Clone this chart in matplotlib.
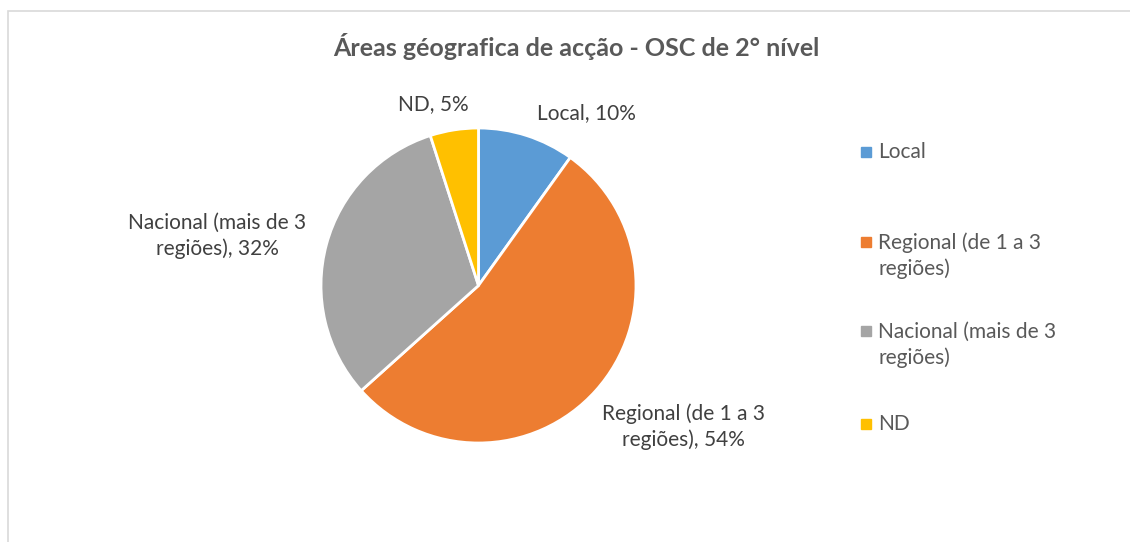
import matplotlib.pyplot as plt
from matplotlib.patches import Rectangle

plt.rcParams['font.family'] = ['Lato', 'DejaVu Sans']

# dados
categorias = ['Local', 'Regional (de 1 a 3\nregiões)', 'Nacional (mais de 3\nregiões)', 'ND']
percentagens = [10, 54, 32, 5]
rotulos = ['Local, 10%', 'Regional (de 1 a 3\nregiões), 54%', 'Nacional (mais de 3\nregiões), 32%', 'ND, 5%']
cores = ['#5B9BD5', '#ED7D31', '#A5A5A5', '#FFC000']
titulo = 'Áreas géografica de acção - OSC de 2° nível'

W, H = 1130, 542
cx, cy, r = 478.5, 285.5, 157.5  # centro e raio da tarte em pixeis


def px(x, y):
    # pixel -> coordenadas de dados (raio = 1)
    return (x - cx) / r, (cy - y) / r


fig = plt.figure(figsize=(W / 100, H / 100), dpi=100)
ax = fig.add_axes([0, 0, 1, 1])
ax.axis('off')

# moldura do gráfico
top = 1 - 11 / H
fig.patches.append(Rectangle((8 / W, -0.5), 1.5, top + 0.5, transform=fig.transFigure,
                             fill=False, edgecolor='#D9D9D9', lw=1.2, zorder=0))

ax.pie(percentagens, colors=cores, startangle=90, counterclock=False, radius=1,
       wedgeprops=dict(edgecolor='white', linewidth=2))
ax.set_aspect('auto')
ax.set_xlim(-cx / r, (W - cx) / r)
ax.set_ylim(-(H - cy) / r, cy / r)

# rótulos dos dados
pos_rotulos = [(586, 113), (683, 427), (217, 236), (433, 104)]
for txt, (x, y) in zip(rotulos, pos_rotulos):
    ax.text(*px(x, y), txt, ha='center', va='center', fontsize=15,
            color='#404040', linespacing=1.35)

ax.text(*px(576, 47), titulo, ha='center', va='center', fontsize=18,
        fontweight='bold', color='#595959')

# legenda manual
leg_y = [152, 256, 345, 424]
for cat, cor, y in zip(categorias, cores, leg_y):
    ax.plot(*px(866, y - (14 if '\n' in cat else 0)), marker='s', markersize=6.5,
            color=cor, linestyle='none')
    ax.text(*px(878, y), cat, ha='left', va='center', fontsize=15,
            color='#595959', linespacing=1.35)

fig.savefig('out.png', dpi=100)
